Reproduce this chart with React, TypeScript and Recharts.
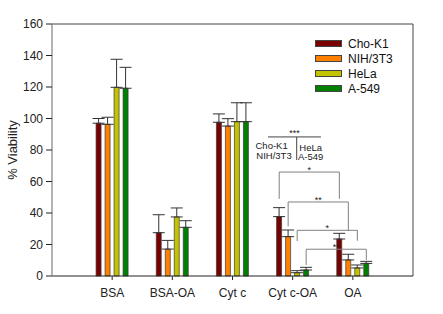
import React from 'react';
import {
  ComposedChart,
  Bar,
  XAxis,
  YAxis,
  ErrorBar,
  ReferenceLine,
  ReferenceDot,
  Legend,
  Label,
} from 'recharts';

const categories = ['BSA', 'BSA-OA', 'Cyt c', 'Cyt c-OA', 'OA'];
const seriesNames = ['Cho-K1', 'NIH/3T3', 'HeLa', 'A-549'];
const seriesColors = ['#7b0000', '#ff8000', '#c3c300', '#008000'];

const choK1 = [97, 27.5, 97.6, 37.7, 23.5];
const choK1Err = [3, 11.4, 5.3, 5.7, 3.6];
const nih3t3 = [96.3, 17.1, 95.2, 25, 10.2];
const nih3t3Err = [4.5, 5.5, 4.7, 4.2, 3.6];
const hela = [119.8, 37.5, 98, 2.1, 5.1];
const helaErr = [17.8, 5.7, 12, 1.3, 1.9];
const a549 = [119.2, 30.9, 98, 3.8, 8];
const a549Err = [13.3, 4.2, 12, 1.7, 1.3];

const yTicks = [0, 20, 40, 60, 80, 100, 120, 140, 160];
const xTicks = [1, 2, 3, 4, 5];

// offsets (x units) of the 4 bars inside a group
const barOffsets = [-0.224, -0.075, 0.075, 0.224];

// significance brackets: from group 4 (Cyt c-OA) to group 5 (OA), per series
const bracketTop = [66, 47, 29, 17];
const bracketLeftEnd = [49, 31.5, 22.2, 7];
const bracketRightEnd = [49, 28.5, 22.4, 10.2];
const bracketLabels = ['*', '**', '*', '**'];

const series = [choK1, nih3t3, hela, a549];
const errs = [choK1Err, nih3t3Err, helaErr, a549Err];
const keys = ['cho', 'nih', 'hela', 'a549'];

const data = categories.map((name, i) => {
  const row: any = { x: i + 1, name };
  keys.forEach((k, s) => {
    row[k] = series[s][i];
    row[k + 'Err'] = [0, errs[s][i]];
  });
  return row;
});

const FONT = '"Liberation Sans", Arial, sans-serif';

const renderLegend = (props: any) => {
  const payload = [...(props.payload || [])].sort(
    (a: any, b: any) => seriesNames.indexOf(a.value) - seriesNames.indexOf(b.value)
  );
  return (
    <div style={{ fontFamily: FONT, fontSize: 12, color: '#111' }}>
      {payload.map((p: any) => (
        <div key={p.value} style={{ display: 'flex', alignItems: 'center', height: 15 }}>
          <span
            style={{
              display: 'inline-block',
              width: 27,
              height: 7,
              background: p.color,
              border: '1px solid #444',
              boxSizing: 'border-box',
              marginRight: 6,
            }}
          />
          <span>{p.value}</span>
        </div>
      ))}
    </div>
  );
};

const yLabel = (props: any) => {
  const vb = props.viewBox || { x: 0, y: 0, width: 0, height: 0 };
  const cx = vb.x + 12;
  const cy = vb.y + vb.height / 2;
  return (
    <text
      x={cx}
      y={cy}
      transform={`rotate(-90 ${cx} ${cy})`}
      textAnchor="middle"
      dominantBaseline="central"
      fontSize={13}
      fontFamily={FONT}
      fill="#222"
    >
      % Viability
    </text>
  );
};

const textDot = (key: string, x: number, y: number, value: string, size: number) => (
  <ReferenceDot key={key} x={x} y={y} r={1} fill="none" stroke="none" ifOverflow="visible">
    <Label value={value} position="center" fontSize={size} fill="#222" fontFamily={FONT} />
  </ReferenceDot>
);

const seg = (key: string, x1: number, y1: number, x2: number, y2: number, color: string) => (
  <ReferenceLine
    key={key}
    segment={[{ x: x1, y: y1 }, { x: x2, y: y2 }]}
    stroke={color}
    strokeWidth={1}
    ifOverflow="visible"
  />
);

export default function App() {
  const brackets: any[] = [];
  barOffsets.forEach((off, s) => {
    const xl = 4 + off;
    const xr = 5 + off;
    const c = '#808080';
    brackets.push(seg(`bt${s}`, xl, bracketTop[s], xr, bracketTop[s], c));
    brackets.push(seg(`bl${s}`, xl, bracketTop[s], xl, bracketLeftEnd[s], c));
    brackets.push(seg(`br${s}`, xr, bracketTop[s], xr, bracketRightEnd[s], c));
    brackets.push(textDot(`bx${s}`, (xl + xr) / 2, bracketTop[s] + 1.5, bracketLabels[s], 9));
  });

  return (
    <div style={{ position: 'absolute', left: 0, top: 0 }}>
      <ComposedChart
        width={443}
        height={314}
        data={data}
        margin={{ top: 24, right: 30, left: 0, bottom: 0 }}
        barGap={4}
      >
        <XAxis
          dataKey="x"
          type="number"
          domain={[0, 6]}
          ticks={xTicks}
          interval={0}
          tickFormatter={(v: number) => categories[v - 1]}
          height={38}
          tickSize={4}
          tickMargin={8}
          axisLine={{ stroke: '#222' }}
          tickLine={{ stroke: '#222' }}
          tick={{ fontSize: 12, fill: '#222', fontFamily: FONT }}
        />
        <YAxis
          domain={[0, 160]}
          ticks={yTicks}
          width={52}
          tickSize={6}
          tickMargin={3}
          axisLine={{ stroke: '#9a9a9a', strokeWidth: 1.5 }}
          tickLine={{ stroke: '#222' }}
          tick={{ fontSize: 12, fill: '#222', fontFamily: FONT }}
          label={{ content: yLabel }}
        />
        <ReferenceLine y={160} stroke="#444" strokeWidth={1} ifOverflow="visible" />
        <ReferenceLine x={6} stroke="#444" strokeWidth={1} ifOverflow="visible" />
        {keys.map((k, s) => (
          <Bar
            key={k}
            dataKey={k}
            name={seriesNames[s]}
            fill={seriesColors[s]}
            stroke="#3a3a3a"
            strokeWidth={0.7}
            barSize={5}
            isAnimationActive={false}
          >
            <ErrorBar dataKey={k + 'Err'} width={6} stroke="#333" strokeWidth={1} direction="y" />
          </Bar>
        ))}
        {brackets}
        {seg('g1', 3.59, 88.3, 4.47, 88.3, '#444')}
        {seg('g2', 4.067, 88.3, 4.067, 73.7, '#444')}
        {textDot('g3', 4.03, 91, '***', 9)}
        {textDot('g4', 3.65, 83.0, 'Cho-K1', 9.5)}
        {textDot('g5', 3.69, 76.7, 'NIH/3T3', 9.5)}
        {textDot('g6', 4.3, 81.8, 'HeLa', 9.5)}
        {textDot('g7', 4.3, 75.5, 'A-549', 9.5)}
        <Legend
          layout="horizontal"
          verticalAlign="middle"
          align="center"
          content={renderLegend}
          wrapperStyle={{ left: 315, top: 36, width: 'auto', height: 'auto' }}
        />
      </ComposedChart>
    </div>
  );
}
